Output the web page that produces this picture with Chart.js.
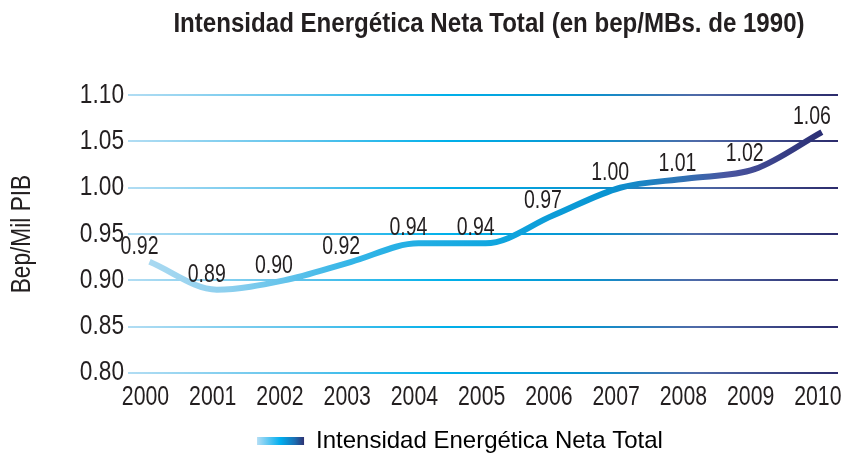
<!DOCTYPE html>
<html>
<head>
<meta charset="utf-8">
<script src="https://cdn.jsdelivr.net/npm/chart.js@4.4.0/dist/chart.umd.min.js"></script>
<style>
html,body{margin:0;padding:0;background:#fff;}
#wrap{width:844px;height:455px;}
</style>
</head>
<body>
<div id="wrap"><canvas id="c" width="844" height="455"></canvas></div>
<script>
const years = [2000, 2001, 2002, 2003, 2004, 2005, 2006, 2007, 2008, 2009, 2010];
const intensity = [0.92, 0.89, 0.90, 0.92, 0.94, 0.94, 0.97, 1.00, 1.01, 1.02, 1.06];
const yTicks = [0.80, 0.85, 0.90, 0.95, 1.00, 1.05, 1.10];
const seriesName = 'Intensidad Energética Neta Total';
const titleText = 'Intensidad Energética Neta Total (en bep/MBs. de 1990)';
const yTitle = 'Bep/Mil PIB';

const FONT = "'Liberation Sans', Arial, sans-serif";
const TXT = '#231f20';

// Narrow-typeface look: horizontally condense glyphs per text style
const canvas = document.getElementById('c');
const ctx2d = canvas.getContext('2d');
function condenseFor(font) {
  const m = /(\d+(?:\.\d+)?)px/.exec(font);
  const size = m ? parseFloat(m[1]) : 12;
  const bold = /bold|700/.test(font);
  if (bold) return 0.86;
  if (size === 27) return 0.84;
  if (size === 28) return 0.76;
  if (size === 26) return 0.75;
  return 1.0;
}
const origFill = ctx2d.fillText.bind(ctx2d);
const origMeasure = ctx2d.measureText.bind(ctx2d);
ctx2d.fillText = function (t, x, y, maxW) {
  const f = condenseFor(this.font);
  this.save();
  this.translate(x, y);
  this.scale(f, 1);
  if (maxW !== undefined && maxW !== null) origFill(t, 0, 0, maxW / f);
  else origFill(t, 0, 0);
  this.restore();
};
ctx2d.measureText = function (t) {
  const f = condenseFor(this.font);
  const m = origMeasure(t);
  return {
    width: m.width * f,
    actualBoundingBoxLeft: m.actualBoundingBoxLeft * f,
    actualBoundingBoxRight: m.actualBoundingBoxRight * f,
    actualBoundingBoxAscent: m.actualBoundingBoxAscent,
    actualBoundingBoxDescent: m.actualBoundingBoxDescent,
    fontBoundingBoxAscent: m.fontBoundingBoxAscent,
    fontBoundingBoxDescent: m.fontBoundingBoxDescent
  };
};

function lineGradient(ctx, x0, x1) {
  const g = ctx.createLinearGradient(x0, 0, x1, 0);
  g.addColorStop(0.00, '#a9d9f1');
  g.addColorStop(0.12, '#8ccfee');
  g.addColorStop(0.30, '#33b5e7');
  g.addColorStop(0.50, '#11a7e0');
  g.addColorStop(0.68, '#0894d2');
  g.addColorStop(0.78, '#2a77b8');
  g.addColorStop(0.86, '#4a55a0');
  g.addColorStop(1.00, '#2b2f74');
  return g;
}
function gridGradient(ctx, x0, x1) {
  const g = ctx.createLinearGradient(x0, 0, x1, 0);
  g.addColorStop(0.00, '#b2ddf3');
  g.addColorStop(0.25, '#5cc3ec');
  g.addColorStop(0.45, '#00b0ea');
  g.addColorStop(0.65, '#0a93cf');
  g.addColorStop(0.80, '#4f6aa8');
  g.addColorStop(1.00, '#2c2b6c');
  return g;
}

const dataLabels = {
  id: 'dataLabels',
  afterDatasetsDraw(chart) {
    const ctx = chart.ctx;
    const meta = chart.getDatasetMeta(0);
    ctx.save();
    ctx.font = "26px " + FONT;
    ctx.fillStyle = TXT;
    ctx.textAlign = 'center';
    ctx.textBaseline = 'middle';
    meta.data.forEach((pt, i) => {
      ctx.fillText(intensity[i].toFixed(2), pt.x - 10, pt.y - 15);
    });
    ctx.restore();
  }
};

const boxAdjust = {
  id: 'boxAdjust',
  afterLayout(chart) {
    const lg = chart.legend;
    if (lg) { lg.left -= 23; lg.right -= 23; lg.top += 8; lg.bottom += 8; }
    const tt = chart.titleBlock;
    if (tt) { tt.left += 6; tt.right += 6; }
  },
  beforeDraw(chart) {
    const lg = chart.legend;
    if (!lg || !lg.legendItems || !lg.legendItems.length) return;
    const pad = lg.options.labels.padding;
    const x0 = (lg.left + pad + lg.right - lg.lineWidths[0]) / 2;
    const g = chart.ctx.createLinearGradient(x0, 0, x0 + 47, 0);
    g.addColorStop(0, '#b4def5');
    g.addColorStop(0.5, '#00aeef');
    g.addColorStop(0.8, '#1b6fb3');
    g.addColorStop(1, '#2e3272');
    lg.legendItems[0].fillStyle = g;
  }
};

new Chart(canvas, {
  type: 'line',
  data: {
    labels: years,
    datasets: [{
      label: seriesName,
      data: intensity,
      borderWidth: 6,
      cubicInterpolationMode: 'monotone',
      pointRadius: 0,
      pointHoverRadius: 0,
      fill: false,
      borderCapStyle: 'butt',
      borderColor: (c) => {
        const ch = c.chart;
        if (!ch.chartArea) return '#00aeef';
        const xs = ch.scales.x;
        return lineGradient(ch.ctx, xs.getPixelForValue(years[0]), xs.getPixelForValue(years[years.length - 1]));
      }
    }]
  },
  options: {
    responsive: false,
    animation: false,
    devicePixelRatio: 1,
    layout: { padding: { left: 0, right: 6, top: 0, bottom: 0 } },
    plugins: {
      title: {
        display: true,
        text: titleText,
        fullSize: false,
        color: TXT,
        font: { family: FONT, size: 28, weight: 'bold' },
        padding: { top: 7.5, bottom: 54 }
      },
      legend: {
        display: true,
        position: 'bottom',
        fullSize: false,
        labels: {
          color: TXT,
          font: { family: FONT, size: 24 },
          boxWidth: 47,
          boxHeight: 8,
          padding: 0,
          generateLabels: () => [{
            text: seriesName,
            fillStyle: '#00aeef',
            strokeStyle: 'rgba(0,0,0,0)',
            lineWidth: 0,
            datasetIndex: 0,
            hidden: false
          }]
        }
      },
      tooltip: { enabled: false }
    },
    scales: {
      x: {
        type: 'linear',
        min: 1999.68,
        max: 2010.24,
        afterBuildTicks: (s) => { s.ticks = years.map(v => ({ value: v })); },
        afterFit: (s) => { s.height = 48; s.paddingLeft = 0; s.paddingRight = 0; },
        grid: { display: false, drawTicks: false },
        border: { display: false },
        ticks: {
          color: TXT,
          font: { family: FONT, size: 28 },
          padding: 7,
          labelOffset: -4,
          maxRotation: 0,
          autoSkip: false,
          callback: (v) => String(v)
        }
      },
      y: {
        min: 0.80,
        max: 1.10,
        afterBuildTicks: (s) => { s.ticks = yTicks.map(v => ({ value: v })); },
        afterFit: (s) => { s.width = 128; },
        border: { display: false },
        grid: {
          drawTicks: false,
          lineWidth: 2,
          color: (c) => {
            const ch = c.chart;
            if (!ch.chartArea) return '#00aeef';
            return gridGradient(ch.ctx, ch.chartArea.left, ch.chartArea.right);
          }
        },
        ticks: {
          color: TXT,
          font: { family: FONT, size: 27 },
          padding: 4,
          callback: (v) => Number(v).toFixed(2)
        },
        title: {
          display: true,
          text: yTitle,
          color: TXT,
          font: { family: FONT, size: 27 },
          padding: { top: 6, bottom: 0 }
        }
      }
    }
  },
  plugins: [dataLabels, boxAdjust]
});
</script>
</body>
</html>
